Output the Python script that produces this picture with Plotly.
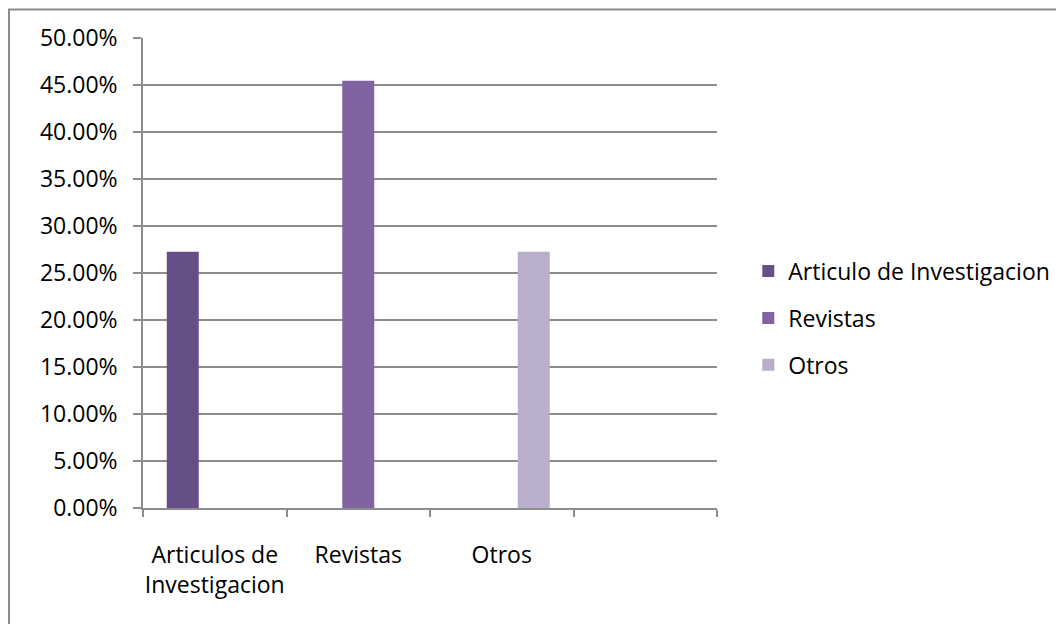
import plotly.graph_objects as go

categories = ["Articulos de<br>Investigacion", "Revistas", "Otros", " "]
series_names = ["Articulo de Investigacion", "Revistas", "Otros"]
series_values = [0.2727, 0.4545, 0.2727]
series_category = [0, 1, 2]
colors = ["#664F86", "#8064A2", "#B9AECB"]

FONT = "Open Sans"
GRID = "#8C8C8C"

fig = go.Figure()
for i, name in enumerate(series_names):
    fig.add_trace(go.Bar(
        x=[categories[series_category[i]]],
        y=[series_values[i]],
        name=name,
        marker=dict(color=colors[i], line=dict(width=0)),
        legendgroup=name,
        offsetgroup=str(i),
        alignmentgroup="a",
    ))

W, H = 1056, 616
L, T, PW, PH = 135, 30, 574, 470

fig.update_layout(
    width=W, height=H,
    margin=dict(l=L, r=W - L - PW, t=T, b=H - T - PH, autoexpand=False),
    paper_bgcolor="white", plot_bgcolor="white",
    barmode="group", bargap=0.331, bargroupgap=0,
    font=dict(family=FONT, size=23, color="black"),
    showlegend=True,
    legend=dict(x=1.0545, y=0.404, xanchor="left", yanchor="middle",
                traceorder="grouped", tracegroupgap=14,
                font=dict(family=FONT, size=23, color="black"),
                bgcolor="rgba(0,0,0,0)"),
    xaxis=dict(type="category", categoryorder="array", categoryarray=categories,
               range=[-0.5, 3.5], showgrid=False, showline=True, linecolor=GRID,
               linewidth=1.5, ticks="outside", ticklen=7, tickcolor=GRID,
               tickwidth=1.5, tickson="boundaries", ticklabelstandoff=26,
               tickangle=0, automargin=False,
               tickfont=dict(family=FONT, size=23, color="black")),
    yaxis=dict(range=[0, 0.5], dtick=0.05, tickformat=".2%", showgrid=True,
               gridcolor=GRID, gridwidth=1.5, showline=True, linecolor=GRID,
               linewidth=1.5, ticks="outside", ticklen=8, tickcolor=GRID,
               tickwidth=1.5, zeroline=False, ticklabelstandoff=11,
               automargin=False,
               tickfont=dict(family=FONT, size=23, color="black")),
    shapes=[dict(type="rect", xref="paper", yref="paper",
                 x0=(1 - L) / PW, x1=(W + 30 - L) / PW,
                 y0=(PH + T - 1.5) / PH, y1=-(H - T - PH + 30) / PH,
                 line=dict(color="#8C8C8C", width=2), fillcolor="rgba(0,0,0,0)",
                 layer="below")],
)

fig.write_html("out.html")
